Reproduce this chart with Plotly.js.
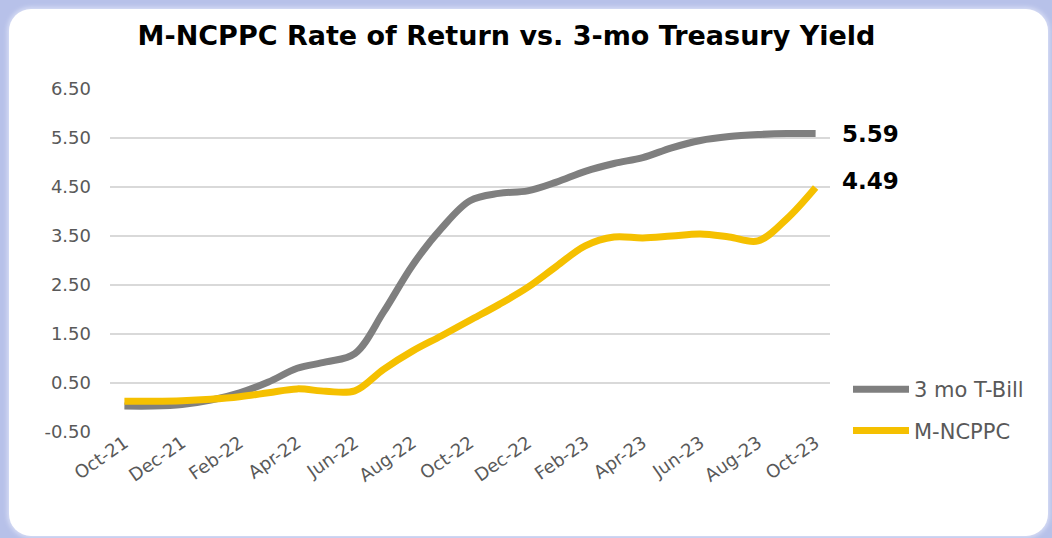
<!DOCTYPE html>
<html>
<head>
<meta charset="utf-8">
<script src="https://cdn.plot.ly/plotly-3.0.1.min.js"></script>
<style>
  html, body { margin:0; padding:0; width:1052px; height:538px; overflow:hidden; background:#b7c1e9; }
  #card { position:absolute; left:9px; top:9px; width:1039px; height:527px; background:#ffffff; border-radius:22px; box-shadow: 0 0 4px 2px #d6dcf4; }
  #chart { position:absolute; left:0; top:0; width:1052px; height:538px; }
</style>
</head>
<body>
<div id="card"></div>
<div id="chart"></div>
<script>
// ---- data ----
const months = ["Oct-21","Nov-21","Dec-21","Jan-22","Feb-22","Mar-22","Apr-22","May-22","Jun-22","Jul-22","Aug-22","Sep-22","Oct-22","Nov-22","Dec-22","Jan-23","Feb-23","Mar-23","Apr-23","May-23","Jun-23","Jul-23","Aug-23","Sep-23","Oct-23"];
const tbill = [0.03,0.03,0.06,0.15,0.30,0.52,0.80,0.93,1.10,1.95,2.90,3.65,4.22,4.37,4.42,4.60,4.82,4.98,5.10,5.30,5.45,5.53,5.57,5.59,5.59];
const mncppc = [0.13,0.13,0.14,0.17,0.22,0.30,0.38,0.33,0.34,0.78,1.15,1.46,1.78,2.10,2.45,2.88,3.30,3.48,3.46,3.50,3.54,3.48,3.40,3.85,4.49];
const seriesNames = ["3 mo T-Bill","M-NCPPC"];
const yTicks = [-0.5,0.5,1.5,2.5,3.5,4.5,5.5,6.5];
const labelEvery = 2;

const tickLabels = months.filter((m,i)=> i % labelEvery === 0);
const boundaryTicks = months.map((m,i)=> i - 0.5).filter((v,i)=> i % labelEvery === 0);

const FONT = "DejaVu Sans, Liberation Sans, Arial, sans-serif";
const grid = "#d9d9d9";
const txt = "#595959";

const traces = [
  { x: months, y: tbill, name: seriesNames[0], type:"scatter", mode:"lines",
    line:{color:"#7f7f7f", width:7, shape:"spline", smoothing:1}, legendgroup:"a", hoverinfo:"skip" },
  { x: months, y: mncppc, name: seriesNames[1], type:"scatter", mode:"lines",
    line:{color:"#f5c000", width:7, shape:"spline", smoothing:1}, legendgroup:"b", hoverinfo:"skip" }
];

const last = months.length - 1;
const layout = {
  width:1052, height:538,
  paper_bgcolor:"rgba(0,0,0,0)", plot_bgcolor:"rgba(0,0,0,0)",
  margin:{l:110, r:221.5, t:88.8, b:105.5, autoexpand:false},
  title:{ text:"M-NCPPC Rate of Return vs. 3-mo Treasury Yield", xref:"container", yref:"container",
          x:506.5/1052, xanchor:"center", y:1-36/538, yanchor:"middle",
          font:{family:FONT, size:27, color:"#000000", weight:"bold"} },
  xaxis:{ type:"category", range:[-0.5, months.length-0.5], showgrid:false, zeroline:false, showline:false,
          ticks:"", tickmode:"array", tickvals:tickLabels, ticktext:tickLabels, tickangle:-35, ticklabelstandoff:-4,
          tickfont:{family:FONT, size:18, color:txt}, automargin:false, fixedrange:true },
  xaxis2:{ overlaying:"x", anchor:"free", position:(0-yTicks[0])/(yTicks[yTicks.length-1]-yTicks[0]),
           type:"linear", range:[-0.5, months.length-0.5], showgrid:false, zeroline:false,
           showline:true, linecolor:grid, linewidth:1.5, ticks:"outside", ticklen:6, tickwidth:1.5, tickcolor:grid,
           tickmode:"array", tickvals:boundaryTicks, showticklabels:false, automargin:false, fixedrange:true },
  yaxis:{ range:[yTicks[0], yTicks[yTicks.length-1]], tickmode:"array", tickvals:yTicks,
          ticktext:yTicks.map(v=>v.toFixed(2)), showgrid:true, gridcolor:grid, gridwidth:1.5,
          zeroline:false, showline:false, ticks:"", ticklabelstandoff:18,
          tickfont:{family:FONT, size:18, color:txt}, automargin:false, fixedrange:true },
  showlegend:true,
  legend:{ x:848/1052, xref:"container", xanchor:"left", y:1-369/538, yref:"container", yanchor:"top",
           font:{family:FONT, size:21, color:txt}, tracegroupgap:11, itemwidth:56,
           bgcolor:"rgba(0,0,0,0)", traceorder:"grouped" },
  annotations:[
    { x: months[last], y: tbill[last], xref:"x", yref:"y", text:tbill[last].toFixed(2), showarrow:false,
      xanchor:"left", yanchor:"middle", xshift:24, font:{family:FONT, size:23, color:"#000", weight:"bold"} },
    { x: months[last], y: mncppc[last], xref:"x", yref:"y", text:mncppc[last].toFixed(2), showarrow:false,
      xanchor:"left", yanchor:"middle", xshift:24, yshift:6, font:{family:FONT, size:23, color:"#000", weight:"bold"} }
  ]
};

Plotly.newPlot("chart", traces, layout, {displayModeBar:false, staticPlot:true});
</script>
</body>
</html>
